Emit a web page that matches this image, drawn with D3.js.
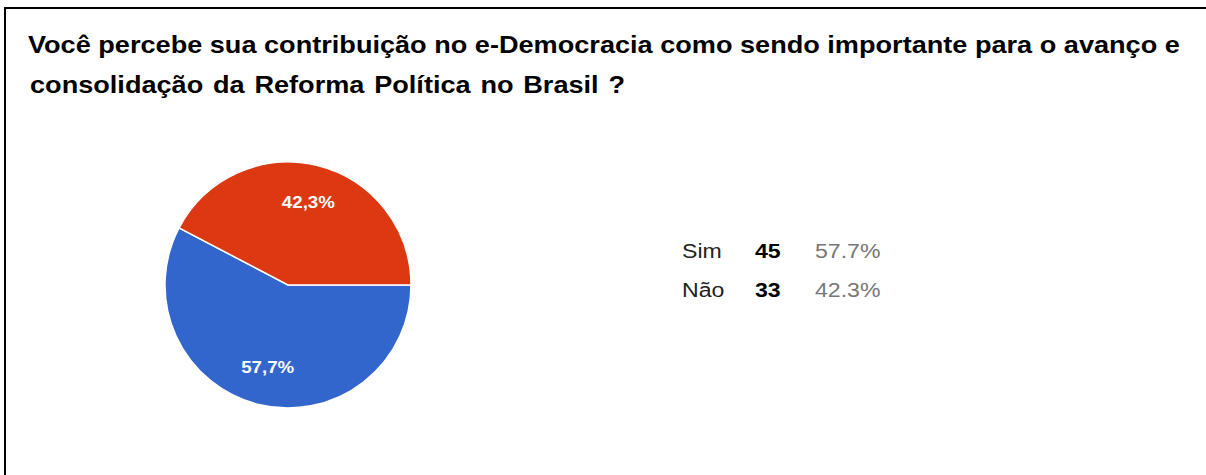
<!DOCTYPE html>
<html>
<head>
<meta charset="utf-8">
<script src="https://cdn.jsdelivr.net/npm/d3@7"></script>
<style>
  body { margin: 0; background: #fff; }
  svg { display: block; font-family: "Liberation Sans", Arial, sans-serif; }
</style>
</head>
<body>
<script>
// data
var titleLines = [
    "Você percebe sua contribuição no e-Democracia como sendo importante para o avanço e",
    "consolidação da Reforma Política no Brasil ?"
];
var categories = ["Sim", "Não"];
var counts = [45, 33];
var percents = ["57,7%", "42,3%"];
var legendPercents = ["57.7%", "42.3%"];
var colors = ["#3366cc", "#dc3912"];

var width = 1206, height = 475;
var stretch = 1.1; // text in the picture is a bit wide

var svg = d3.select("body").append("svg")
    .attr("width", width)
    .attr("height", height);

// frame (only top and left edges show)
svg.append("path")
    .attr("d", "M5,475 V8 H1206")
    .attr("fill", "none")
    .attr("stroke", "#000")
    .attr("stroke-width", 2);

// title
svg.selectAll(".title")
    .data(titleLines)
    .enter().append("text")
    .attr("class", "title")
    .attr("transform", function (d, i) { return "translate(" + (28 + i * 2) + "," + (53 + i * 40) + ") scale(1.13,1)"; })
    .attr("font-size", 24)
    .attr("font-weight", "bold")
    .attr("word-spacing", function (d, i) { return i ? 2 : 0; })
    .attr("fill", "#000")
    .text(function (d) { return d; });

// pie
var cx = 288, cy = 285, radius = 123;

var pie = d3.pie()
    .sort(null)
    .startAngle(Math.PI / 2)
    .endAngle(Math.PI / 2 + 2 * Math.PI);

var arc = d3.arc().innerRadius(0).outerRadius(radius);
var labelArc = d3.arc().innerRadius(85).outerRadius(85);

var g = svg.append("g")
    .attr("transform", "translate(" + cx + "," + cy + ")");

var slices = pie(counts);

g.selectAll("path.slice")
    .data(slices)
    .enter().append("path")
    .attr("class", "slice")
    .attr("d", arc)
    .attr("fill", function (d, i) { return colors[i]; })
    .attr("stroke", "#fff")
    .attr("stroke-width", 1.5);

g.selectAll("text.plabel")
    .data(slices)
    .enter().append("text")
    .attr("class", "plabel")
    .attr("transform", function (d) {
        var c = labelArc.centroid(d);
        return "translate(" + c[0] + "," + c[1] + ") scale(" + stretch + ",1)";
    })
    .attr("text-anchor", "middle")
    .attr("dy", "0.35em")
    .attr("font-size", 17)
    .attr("font-weight", "bold")
    .attr("fill", "#fff")
    .text(function (d, i) { return percents[i]; });

// legend table
var legend = svg.selectAll(".legend")
    .data(categories)
    .enter().append("g")
    .attr("class", "legend")
    .attr("transform", function (d, i) { return "translate(682," + (258 + i * 39) + ")"; });

legend.append("text")
    .attr("transform", "scale(" + stretch + ",1)")
    .attr("font-size", 21)
    .attr("fill", "#222")
    .text(function (d) { return d; });

legend.append("text")
    .attr("transform", "translate(73,0) scale(" + stretch + ",1)")
    .attr("font-size", 21)
    .attr("font-weight", "bold")
    .attr("fill", "#000")
    .text(function (d, i) { return counts[i]; });

legend.append("text")
    .attr("transform", "translate(133,0) scale(" + stretch + ",1)")
    .attr("font-size", 21)
    .attr("fill", "#777")
    .text(function (d, i) { return legendPercents[i]; });
</script>
</body>
</html>
